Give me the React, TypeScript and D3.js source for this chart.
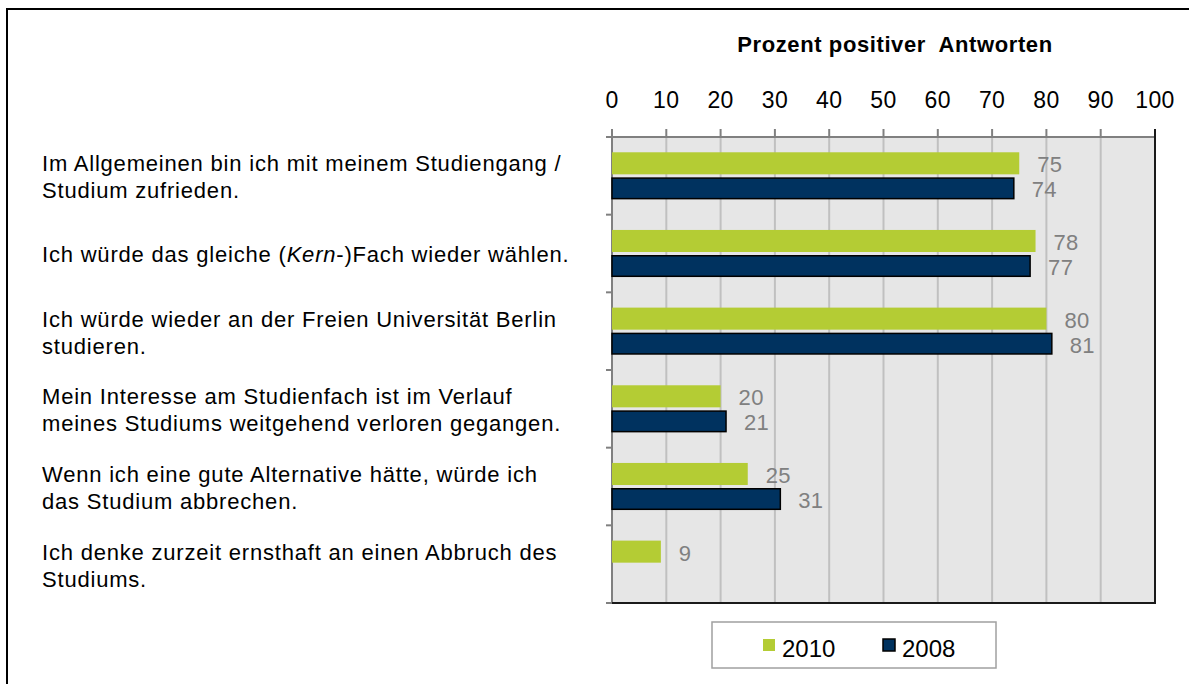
import React from "react";
import * as d3 from "d3";

const categories: string[][] = [
  ["Im Allgemeinen bin ich mit meinem Studiengang /", "Studium zufrieden."],
  ["Ich würde das gleiche (|Kern|-)Fach wieder wählen."],
  ["Ich würde wieder an der Freien Universität Berlin", "studieren."],
  ["Mein Interesse am Studienfach ist im Verlauf", "meines Studiums weitgehend verloren gegangen."],
  ["Wenn ich eine gute Alternative hätte, würde ich", "das Studium abbrechen."],
  ["Ich denke zurzeit ernsthaft an einen Abbruch des", "Studiums."],
];
const series = ["2010", "2008"];
const values2010: (number | null)[] = [75, 78, 80, 20, 25, 9];
const values2008: (number | null)[] = [74, 77, 81, 21, 31, null];
const xTicks = [0, 10, 20, 30, 40, 50, 60, 70, 80, 90, 100];
const title = "Prozent positiver  Antworten";

const GREEN = "#b4cc34";
const NAVY = "#00325f";
const FONT = "'Liberation Sans', Arial, sans-serif";

export default function App() {
  const W = 1189, H = 684;
  const left = 612, right = 1155, top = 137, bottom = 603;
  const x = d3.scaleLinear().domain([0, 100]).range([left, right]);
  const catIdx = categories.map((_, i) => String(i));
  const y = d3.scaleBand().domain(catIdx).range([top, bottom]);
  const bw = y.bandwidth();
  const inner = d3.scaleBand().domain(series).range([0, bw]).paddingInner(0.12).paddingOuter(0.61);
  const data = [values2010, values2008];
  const colors = [GREEN, NAVY];
  const lineGap = 27;
  const catFs = 22;

  const renderLine = (s: string) => {
    const parts = s.split("|");
    return parts.map((p, k) => (
      <tspan key={k} fontStyle={k % 2 === 1 ? "italic" : "normal"}>{p}</tspan>
    ));
  };

  return (
    <div style={{ position: "absolute", left: 0, top: 0 }}>
      <svg width={W} height={H} style={{ display: "block", fontFamily: FONT }}>
        <rect x={0} y={0} width={W} height={H} fill="#ffffff" />
        <rect x={7} y={9} width={1300} height={800} fill="none" stroke="#000" strokeWidth={2} />
        {/* title */}
        <text x={895} y={52} textAnchor="middle" fontSize={22} fontWeight="bold" letterSpacing={0.6} style={{ whiteSpace: "pre" }} fill="#000">
          {title}
        </text>
        {/* plot area */}
        <rect x={left} y={top} width={right - left} height={bottom - top} fill="#e6e6e6" />
        {xTicks.map((t) => (
          <line key={"g" + t} x1={x(t)} x2={x(t)} y1={top} y2={bottom} stroke="#c0c0c0" strokeWidth={2} />
        ))}
        {/* top axis */}
        <line x1={left} x2={right} y1={top} y2={top} stroke="#808080" strokeWidth={2} />
        {xTicks.map((t) => (
          <g key={"t" + t}>
            <line x1={x(t)} x2={x(t)} y1={top - 8} y2={top} stroke="#808080" strokeWidth={2} />
            <text x={x(t)} y={108} textAnchor="middle" fontSize={23} letterSpacing={0.4} fill="#000">{t}</text>
          </g>
        ))}
        {/* left axis */}
        <line x1={left} x2={left} y1={top} y2={bottom} stroke="#808080" strokeWidth={2} />
        {catIdx.concat([String(categories.length)]).map((c, i) => {
          const yy = top + i * bw;
          return <line key={"lt" + i} x1={left - 6} x2={left} y1={yy} y2={yy} stroke="#808080" strokeWidth={2} />;
        })}
        {/* right and bottom edges */}
        <line x1={right} x2={right} y1={top - 8} y2={bottom + 1} stroke="#1a1a1a" strokeWidth={2} />
        <line x1={left} x2={right + 1} y1={bottom} y2={bottom} stroke="#1a1a1a" strokeWidth={2} />
        {/* bars */}
        {catIdx.map((c, i) => (
          <g key={"b" + c}>
            {series.map((s, si) => {
              const v = data[si][i];
              if (v == null) return null;
              const by = (y(c) as number) + (inner(s) as number);
              const bh = inner.bandwidth();
              const isNavy = si === 1;
              return (
                <g key={s}>
                  <rect
                    x={x(0)}
                    y={isNavy ? by + 0.75 : by}
                    width={x(v) - x(0)}
                    height={isNavy ? bh - 1.5 : bh}
                    fill={colors[si]}
                    stroke={isNavy ? "#000" : "none"}
                    strokeWidth={isNavy ? 1.5 : 0}
                  />
                  <text x={x(v) + 18} y={by + bh / 2 + 9} fontSize={22} letterSpacing={0.3} fill="#808080">{v}</text>
                </g>
              );
            })}
          </g>
        ))}
        {/* category labels */}
        {categories.map((lines, i) => {
          const cy = (y(String(i)) as number) + bw / 2;
          const n = lines.length;
          return (
            <text key={"c" + i} fontSize={catFs} fill="#000" letterSpacing={0.8}>
              {lines.map((ln, k) => (
                <tspan key={k} x={42} y={cy + (k - (n - 1) / 2) * lineGap + catFs * 0.358 + 1}>
                  {renderLine(ln)}
                </tspan>
              ))}
            </text>
          );
        })}
        {/* legend */}
        <rect x={712} y={622} width={284} height={46} fill="#fff" stroke="#a0a0a0" strokeWidth={1.5} />
        {series.map((s, si) => {
          const lx = 763 + si * 120;
          return (
            <g key={"l" + s}>
              <rect x={lx} y={639} width={12} height={12} fill={colors[si]} stroke={si === 1 ? "#000" : "none"} strokeWidth={si === 1 ? 1.5 : 0} />
              <text x={lx + 19} y={657} fontSize={24} fill="#000">{s}</text>
            </g>
          );
        })}
      </svg>
    </div>
  );
}
